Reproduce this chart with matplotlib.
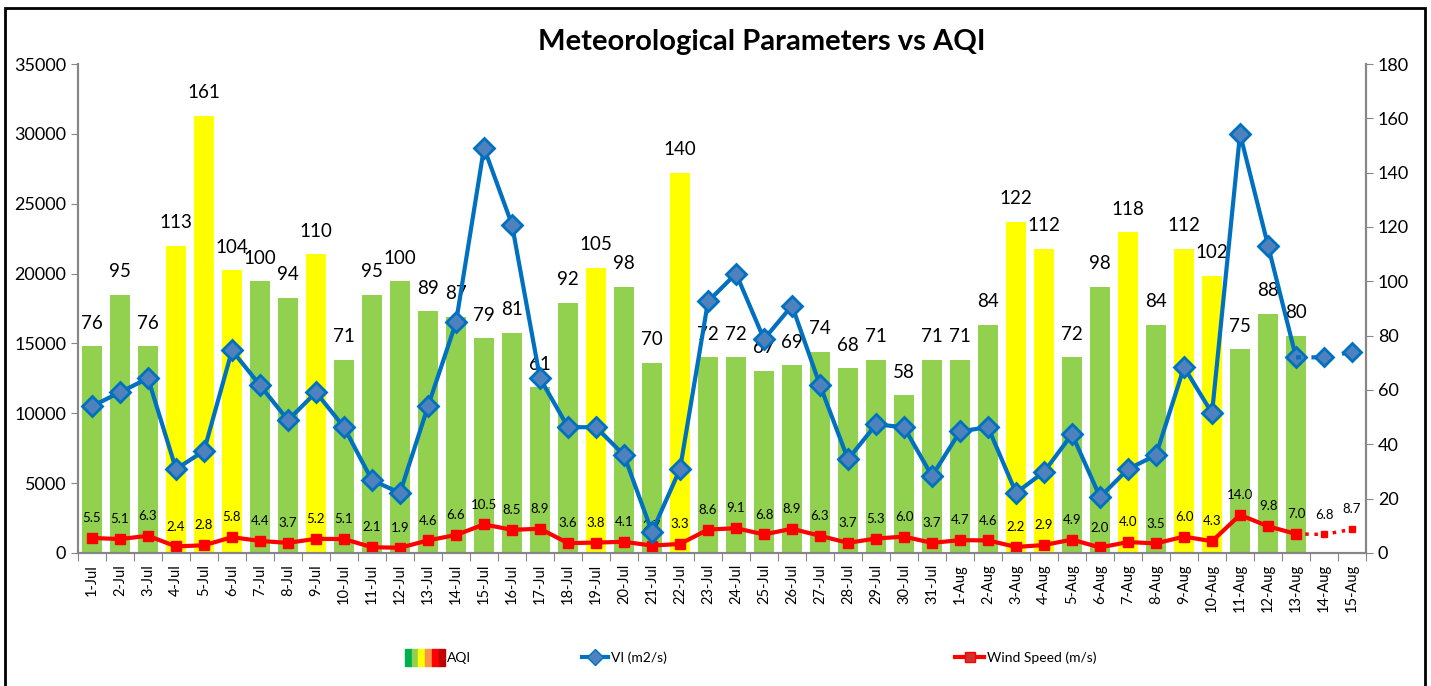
import matplotlib.pyplot as plt
import numpy as np
from matplotlib.patches import Rectangle
from matplotlib.lines import Line2D
from matplotlib.legend_handler import HandlerTuple

plt.rcParams['font.family'] = ['Lato', 'DejaVu Sans']

# dates on the x axis
dates = [f'{d}-Jul' for d in range(1, 32)] + [f'{d}-Aug' for d in range(1, 16)]

# AQI (bars, right axis) - no values for the last two days
aqi = [76, 95, 76, 113, 161, 104, 100, 94, 110, 71, 95, 100, 89, 87, 79, 81,
       61, 92, 105, 98, 70, 140, 72, 72, 67, 69, 74, 68, 71, 58, 71,
       71, 84, 122, 112, 72, 98, 118, 84, 112, 102, 75, 88, 80]

# ventilation index (left axis)
vi = [10500, 11500, 12500, 6000, 7300, 14500, 12000, 9500, 11500, 9000, 5200,
      4300, 10500, 16500, 29000, 23500, 12500, 9000, 9000, 7000, 1500, 6000,
      18000, 20000, 15300, 17700, 12000, 6700, 9200, 9000, 5500,
      8700, 9000, 4300, 5800, 8500, 4000, 6000, 7000, 13300, 10000, 30000,
      22000, 14000, 14000, 14400]

# wind speed (right axis)
wind = [5.5, 5.1, 6.3, 2.4, 2.8, 5.8, 4.4, 3.7, 5.2, 5.1, 2.1, 1.9, 4.6, 6.6,
        10.5, 8.5, 8.9, 3.6, 3.8, 4.1, 2.7, 3.3, 8.6, 9.1, 6.8, 8.9, 6.3, 3.7,
        5.3, 6.0, 3.7, 4.7, 4.6, 2.2, 2.9, 4.9, 2.0, 4.0, 3.5, 6.0, 4.3, 14.0,
        9.8, 7.0, 6.8, 8.7]

x = np.arange(len(dates))
n_obs = len(aqi)  # observed days, the rest are forecast
bar_colors = ['#FFFF00' if v > 100 else '#92D050' for v in aqi]

fig = plt.figure(figsize=(14.31, 6.86), dpi=100)
ax = fig.add_axes([0.0545, 0.194, 0.9001, 0.7127])
axr = ax.twinx()
ax.set_zorder(axr.get_zorder() + 1)
ax.patch.set_visible(False)
axr.set_facecolor('#E4DFEC')

# AQI bars + labels
axr.bar(x[:n_obs], aqi, width=0.74, color=bar_colors, zorder=1)
for i, v in enumerate(aqi):
    axr.annotate(str(v), (i, v), xytext=(0, 10.5), textcoords='offset points',
                 ha='center', va='bottom', fontsize=13.5, zorder=3)

# wind speed
axr.plot(x[:n_obs], wind[:n_obs], color='#FF0000', lw=3, marker='s', ms=7,
         mfc='#FF0000', mec='#FF0000', zorder=4)
axr.plot(x[n_obs - 1:], wind[n_obs - 1:], color='#FF0000', lw=2.5, ls=':',
         marker='s', ms=4, markevery=[1, 2], zorder=4)
for i, w in enumerate(wind):
    axr.annotate(f'{w:.1f}', (i, w), xytext=(0, 10), textcoords='offset points',
                 ha='center', va='bottom', fontsize=9.5, zorder=3)

# VI
ax.plot(x[:n_obs], vi[:n_obs], color='#0070C0', lw=3, marker='D', ms=10,
        mfc='#4F81BD', mec='#0070C0', mew=2, zorder=5)
ax.plot(x[n_obs - 1:], vi[n_obs - 1:], color='#0070C0', lw=3, ls=(0, (1.2, 2.5)),
        marker='D', ms=9, mfc='#4F81BD', mec='#0070C0', mew=2,
        markevery=[1, 2], zorder=5)

ax.set_xlim(-0.5, len(dates) - 0.5)
ax.set_ylim(0, 35000)
ax.set_yticks(np.arange(0, 35001, 5000))
axr.set_ylim(0, 180)
axr.set_yticks(np.arange(0, 181, 20))

ax.set_xticks(np.arange(-0.5, len(dates)), labels=[])
ax.set_xticks(x, labels=dates, minor=True, rotation=90, fontsize=10.5)
ax.tick_params(axis='x', which='major', length=6, color='#868686')
ax.tick_params(axis='x', which='minor', length=0, pad=8)
ax.tick_params(axis='y', labelsize=13, length=5, color='#868686')
axr.tick_params(axis='y', labelsize=13, length=5, color='#868686')

for a in (ax, axr):
    a.spines['top'].set_visible(False)
    for s in ('left', 'right', 'bottom'):
        a.spines[s].set_color('#868686')
        a.spines[s].set_linewidth(1.5)

fig.text(0.532, 0.939, 'Meteorological Parameters vs AQI', ha='center',
         va='center', fontsize=21, fontweight='bold')

# legends
leg_font = {'family': ['Liberation Sans Narrow', 'Lato'], 'size': 10}
swatch = tuple(Rectangle((0, 0), 1, 1, color=c) for c in
               ['#00B050', '#92D050', '#FFFF00', '#F79646', '#FF0000', '#C00000'])
fig.legend([swatch], ['AQI'], handler_map={tuple: HandlerTuple(ndivide=None, pad=0)},
           loc='center left', bbox_to_anchor=(0.283, 0.041), frameon=False,
           borderpad=0, borderaxespad=0, handlelength=2.9, handleheight=1.5,
           handletextpad=0.1, prop=leg_font)
fig.legend([Line2D([], [], color='#0070C0', lw=3, marker='D', ms=8,
                   mfc='#4F81BD', mec='#0070C0')], ['VI (m2/s)'],
           loc='center left', bbox_to_anchor=(0.4067, 0.041), frameon=False,
           borderpad=0, borderaxespad=0, handlelength=1.9, handletextpad=0.2,
           prop=leg_font)
fig.legend([Line2D([], [], color='#FF0000', lw=3, marker='s', ms=7,
                   mfc='#D03030', mec='#FF0000')], ['Wind Speed (m/s)'],
           loc='center left', bbox_to_anchor=(0.6674, 0.041), frameon=False,
           borderpad=0, borderaxespad=0, handlelength=2.1, handletextpad=0.2,
           prop=leg_font)

# outer frame
fig.patches.append(Rectangle((0.0035, -0.02), 0.9923, 1.008, transform=fig.transFigure,
                             fill=False, edgecolor='black', lw=2))

fig.savefig('out.png', dpi=100)
